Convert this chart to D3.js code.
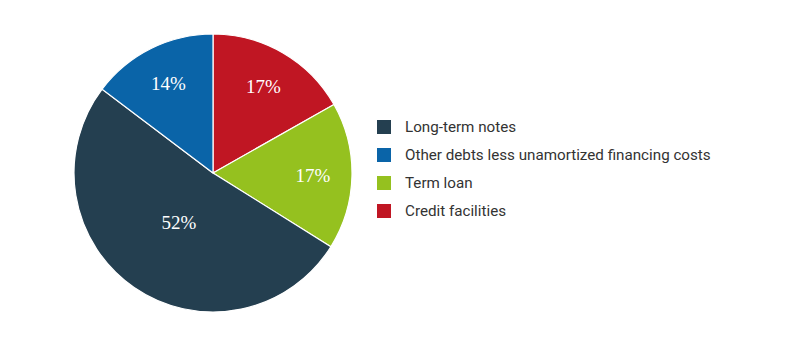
<!DOCTYPE html>
<meta charset="utf-8">
<script src="https://d3js.org/d3.v7.min.js"></script>
<style>
body { margin: 0; background: #fff; }
.legend text { font-family: Roboto, sans-serif; font-size: 15.2px; fill: #333; }
.pct { font-family: "Liberation Serif", "DejaVu Serif", serif; font-size: 19px; fill: #fff; }
</style>
<svg id="chart" width="796" height="341"></svg>
<script>
// slices clockwise from 12 o'clock
var categories = ["Credit facilities", "Term loan", "Long-term notes", "Other debts less unamortized financing costs"];
var values = [16.8, 17.1, 51.4, 14.7];
var labels = ["17%", "17%", "52%", "14%"];
var colors = ["#c01623", "#95c11f", "#243f50", "#0a64a8"];
var legendOrder = ["Long-term notes", "Other debts less unamortized financing costs", "Term loan", "Credit facilities"];

var svg = d3.select("#chart");
var cx = 213, cy = 173, radius = 139;

var color = d3.scaleOrdinal().domain(categories).range(colors);

var pie = d3.pie().sort(null).value(function(d){ return d.value; });
var data = categories.map(function(c, i){ return {name: c, value: values[i], label: labels[i]}; });

var arc = d3.arc().innerRadius(0).outerRadius(radius);

// big slices get their label near the area centroid, small ones further out
function labelPos(d) {
  var t = d.endAngle - d.startAngle;
  var r = t > Math.PI ? 4 * radius * Math.sin(t / 2) / (3 * t) * 1.05 : 100;
  var a = (d.startAngle + d.endAngle) / 2;
  return [r * Math.sin(a), -r * Math.cos(a)];
}

var g = svg.append("g").attr("transform", "translate(" + cx + "," + cy + ")");

g.selectAll("path")
  .data(pie(data))
  .enter()
  .append("path")
    .attr("d", arc)
    .attr("fill", function(d){ return color(d.data.name); })
    .attr("stroke", "white")
    .attr("stroke-width", 1.2);

g.selectAll("text")
  .data(pie(data))
  .enter()
  .append("text")
    .attr("class", "pct")
    .attr("x", function(d){ return labelPos(d)[0]; })
    .attr("y", function(d){ return labelPos(d)[1]; })
    .attr("text-anchor", "middle")
    .attr("dy", "0.35em")
    .text(function(d){ return d.data.label; });

// legend
var legend = svg.append("g").attr("class", "legend").attr("transform", "translate(377,120)");
var size = 14;
legend.selectAll("rect")
  .data(legendOrder)
  .enter()
  .append("rect")
    .attr("x", 0)
    .attr("y", function(d, i){ return i * 28; })
    .attr("width", size)
    .attr("height", size)
    .attr("fill", function(d){ return color(d); });

legend.selectAll("text")
  .data(legendOrder)
  .enter()
  .append("text")
    .attr("x", 28)
    .attr("y", function(d, i){ return i * 28 + size / 2; })
    .attr("dy", "0.35em")
    .text(function(d){ return d; });
</script>
